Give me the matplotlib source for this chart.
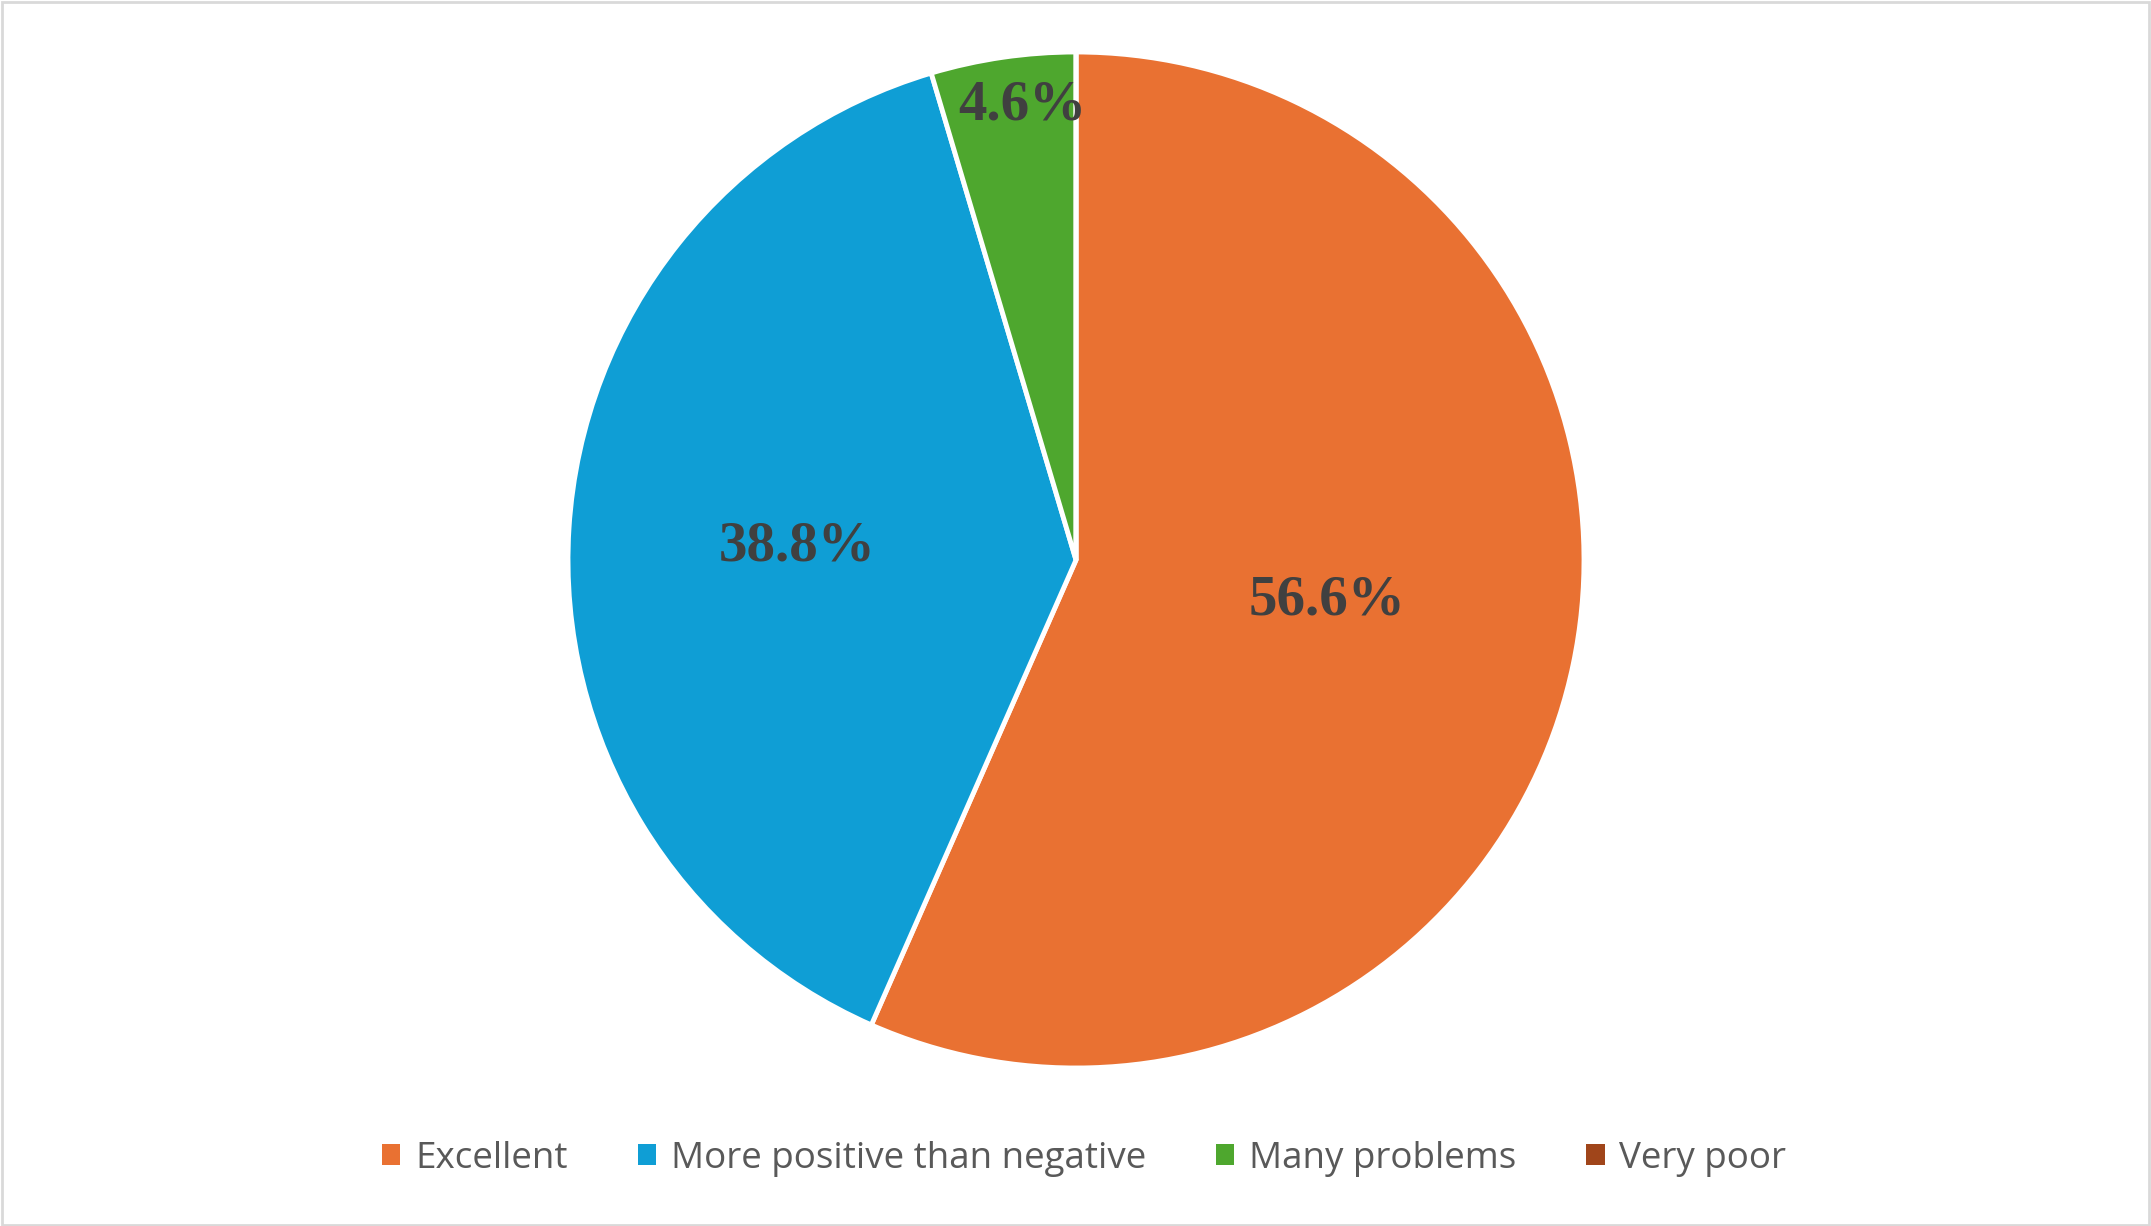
import numpy as np
import matplotlib.pyplot as plt
from matplotlib.patches import Rectangle

categories = ["Excellent", "More positive than negative", "Many problems", "Very poor"]
shares = [56.6, 38.8, 4.6, 0.0]
colors = ["#E97132", "#0F9ED5", "#4EA72E", "#A0451A"]

fig = plt.figure(figsize=(21.51, 12.26), dpi=100)
fig.patch.set_facecolor("white")

# thin grey frame like the Excel chart area
fig.patches.append(Rectangle((0.001, 0.001), 0.998, 0.997, transform=fig.transFigure,
                             fill=False, edgecolor="#D9D9D9", linewidth=2))

# pie box: centre ~ (1076, 560) px, radius ~ 508 px
cx, cy, r = 1076 / 2151, 1 - 560 / 1226, 508
ax = fig.add_axes([cx - r / 2151, cy - r / 1226, 2 * r / 2151, 2 * r / 1226])

wedges, _ = ax.pie(shares, colors=colors, startangle=90, counterclock=False,
                   wedgeprops=dict(edgecolor="white", linewidth=3.5))
ax.set_aspect("equal")
ax.set_xlim(-1, 1)
ax.set_ylim(-1, 1)
ax.axis("off")

# percentage labels placed inside each slice (Excel best fit)
label_dist = [0.50, 0.55, 0.90, 0.5]
label_shift = [2.6, 0.8, -1.6, 0.0]  # degrees off the slice middle
for w, v, d, s in zip(wedges, shares, label_dist, label_shift):
    if v <= 0:
        continue
    ang = np.deg2rad((w.theta1 + w.theta2) / 2 + s)
    ax.text(d * np.cos(ang), d * np.sin(ang), f"{v:.1f}%", ha="center", va="center",
            fontsize=41, fontweight="bold", family="Liberation Serif", color="#404040")

handles = [Rectangle((0, 0), 1, 1, facecolor=c) for c in colors]
fig.legend(handles, categories, loc="center", bbox_to_anchor=(0.504, 1 - 1159 / 1226),
           ncol=4, frameon=False, handlelength=0.5, handleheight=0.5,
           handletextpad=0.4, columnspacing=1.9, labelcolor="#595959",
           prop=dict(family="Open Sans", size=26.5))

fig.savefig("out.png", dpi=100, facecolor="white")
